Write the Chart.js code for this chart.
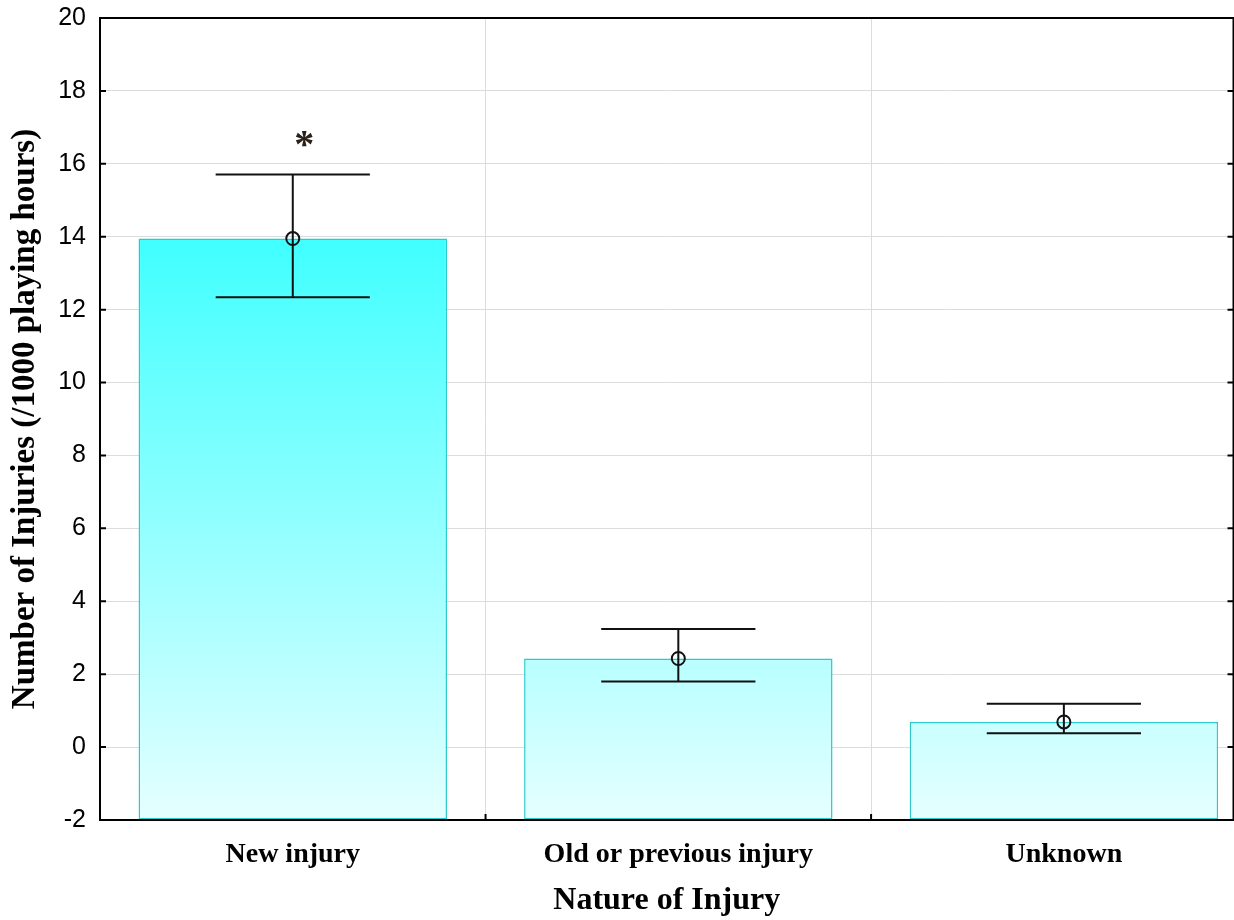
<!DOCTYPE html>
<html lang="en">
<head>
    <meta charset="UTF-8">
    <title>Nature of Injury</title>
    <style>
        html, body { margin: 0; padding: 0; background: #ffffff; overflow: hidden; }
        #wrap { position: relative; width: 1242px; height: 920px; }
    </style>
    <script src="https://cdn.jsdelivr.net/npm/chart.js"></script>
</head>
<body>
    <div id="wrap"><canvas id="injuryChart"></canvas></div>
    <script>
        const categories = ['New injury', 'Old or previous injury', 'Unknown'];
        const means = [13.95, 2.43, 0.69];
        const errLow = [12.34, 1.80, 0.38];
        const errHigh = [15.71, 3.24, 1.19];
        const yMin = -2;
        const yMax = 20;
        const yStep = 2;
        const starLabel = '*';
        const starPos = { x: 1.03, y: 16.68 };

        const serif = "'Liberation Serif', 'Times New Roman', serif";
        const sans = "'Liberation Sans', Arial, sans-serif";

        // bars, error bars and circles all share these points
        const points = categories.map((c, i) => ({ x: i + 1, y: means[i] }));

        function barGradient(context) {
            const chart = context.chart;
            const area = chart.chartArea;
            if (!area) return '#9ffcfc';
            const top = chart.scales.y.getPixelForValue(Math.max(...means));
            const g = chart.ctx.createLinearGradient(0, top, 0, area.bottom);
            g.addColorStop(0, '#40ffff');
            g.addColorStop(1, '#e6ffff');
            return g;
        }

        const errorBars = {
            id: 'errorBars',
            afterDatasetDraw(chart, args) {
                if (args.index !== 0) return;
                const { ctx, scales } = chart;
                const capHalf = (scales.x.getPixelForValue(1.2) - scales.x.getPixelForValue(1));
                ctx.save();
                ctx.strokeStyle = '#111';
                ctx.lineWidth = 2;
                categories.forEach((c, i) => {
                    const x = scales.x.getPixelForValue(i + 1);
                    const lo = scales.y.getPixelForValue(errLow[i]);
                    const hi = scales.y.getPixelForValue(errHigh[i]);
                    ctx.beginPath();
                    ctx.moveTo(x, lo); ctx.lineTo(x, hi);
                    ctx.moveTo(x - capHalf, lo); ctx.lineTo(x + capHalf, lo);
                    ctx.moveTo(x - capHalf, hi); ctx.lineTo(x + capHalf, hi);
                    ctx.stroke();
                });
                ctx.restore();
            }
        };

        const frame = {
            id: 'frame',
            afterDraw(chart) {
                const { ctx, chartArea: a, scales } = chart;
                ctx.save();
                ctx.strokeStyle = '#000';
                ctx.lineWidth = 2;
                ctx.strokeRect(a.left, a.top, a.right - a.left, a.bottom - a.top);
                ctx.beginPath();
                scales.y.ticks.forEach(t => {
                    const y = scales.y.getPixelForValue(t.value);
                    ctx.moveTo(a.left, y); ctx.lineTo(a.left + 6, y);
                    ctx.moveTo(a.right, y); ctx.lineTo(a.right - 6, y);
                });
                for (let i = 1; i < categories.length; i++) {
                    const x = scales.x.getPixelForValue(i + 0.5);
                    ctx.moveTo(x, a.bottom); ctx.lineTo(x, a.bottom - 6);
                }
                ctx.stroke();

                ctx.font = 'bold 40px ' + serif;
                ctx.fillStyle = '#2a2118';
                ctx.textAlign = 'center';
                ctx.textBaseline = 'alphabetic';
                const m = ctx.measureText(starLabel);
                const cy = scales.y.getPixelForValue(starPos.y);
                const off = (m.actualBoundingBoxAscent - m.actualBoundingBoxDescent) / 2;
                ctx.fillText(starLabel, scales.x.getPixelForValue(starPos.x), cy + off);
                ctx.restore();
            }
        };

        new Chart(document.getElementById('injuryChart'), {
            type: 'bar',
            data: {
                datasets: [{
                    type: 'bar',
                    data: points,
                    base: yMin,
                    backgroundColor: barGradient,
                    borderColor: '#2ccaca',
                    borderWidth: 1.5,
                    borderSkipped: false,
                    barPercentage: 0.8,
                    categoryPercentage: 1.0,
                    order: 1
                }, {
                    type: 'scatter',
                    data: points,
                    pointRadius: 6.5,
                    pointBorderWidth: 2,
                    pointBorderColor: '#111',
                    pointBackgroundColor: 'rgba(0,0,0,0)',
                    order: 0
                }]
            },
            options: {
                responsive: true,
                maintainAspectRatio: false,
                animation: false,
                layout: { padding: { top: 18, right: 1, left: 0, bottom: 0 } },
                plugins: { legend: { display: false }, tooltip: { enabled: false } },
                scales: {
                    x: {
                        type: 'linear',
                        min: 0.5,
                        max: 3.44,
                        offset: false,
                        afterBuildTicks: scale => { scale.ticks = categories.map((c, i) => ({ value: i + 1 })); },
                        afterFit: scale => {
                            scale.height = 100;
                            scale.paddingLeft = 0;
                            scale.paddingRight = 0;
                        },
                        grid: { offset: true, color: '#dcdcdc', lineWidth: 1, drawTicks: false },
                        border: { display: true, color: '#000', width: 2 },
                        ticks: {
                            autoSkip: false,
                            maxRotation: 0,
                            padding: 18,
                            color: '#000',
                            font: { family: serif, size: 28, weight: 'bold' },
                            callback: v => categories[v - 1]
                        },
                        title: {
                            display: true,
                            text: 'Nature of Injury',
                            color: '#000',
                            font: { family: serif, size: 32, weight: 'bold' },
                            padding: { top: 0, bottom: 0 }
                        }
                    },
                    y: {
                        min: yMin,
                        max: yMax,
                        afterFit: scale => {
                            scale.width = 100;
                            scale.paddingTop = 0;
                            scale.paddingBottom = 0;
                        },
                        grid: { color: '#dcdcdc', lineWidth: 1, drawTicks: false },
                        border: { display: true, color: '#000', width: 2 },
                        ticks: {
                            stepSize: yStep,
                            padding: 14,
                            color: '#000',
                            font: { family: sans, size: 25 }
                        },
                        title: {
                            display: true,
                            text: 'Number of Injuries (/1000 playing hours)',
                            color: '#000',
                            font: { family: serif, size: 33, weight: 'bold' },
                            padding: { top: 6, bottom: 0 }
                        }
                    }
                }
            },
            plugins: [errorBars, frame]
        });
    </script>
</body>
</html>
